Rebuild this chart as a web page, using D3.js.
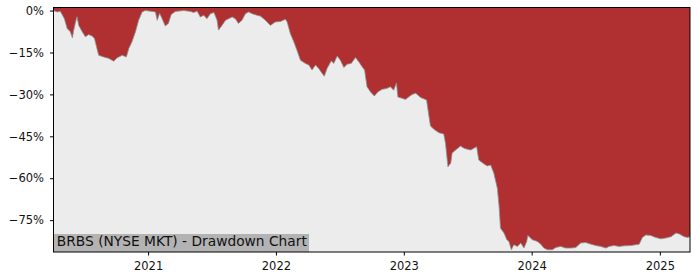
<!DOCTYPE html>
<html>
<head>
<meta charset="utf-8">
<script src="https://cdn.jsdelivr.net/npm/d3@7"></script>
<style>
  body { margin: 0; background: #fff; }
  text { font-family: "DejaVu Sans", sans-serif; }
</style>
</head>
<body>
<svg width="700" height="280"></svg>
<script>
const ticker = "BRBS (NYSE MKT) - Drawdown Chart"

const dates = [
  "2020-04-06","2020-04-17","2020-04-25","2020-05-01","2020-05-07","2020-05-15","2020-05-24","2020-05-30","2020-06-02","2020-06-07",
  "2020-06-12","2020-06-17","2020-06-27","2020-07-06","2020-07-15","2020-07-25","2020-08-01","2020-08-08","2020-08-13","2020-08-27",
  "2020-09-10","2020-09-25","2020-10-04","2020-10-19","2020-10-31","2020-11-07","2020-11-16","2020-11-26","2020-12-05","2020-12-15","2020-12-24",
  "2021-01-07","2021-01-22","2021-01-27","2021-02-03","2021-02-10","2021-02-19","2021-02-28","2021-03-08","2021-03-20","2021-04-13",
  "2021-05-02","2021-05-11","2021-05-21","2021-05-30","2021-06-09","2021-06-18","2021-06-28","2021-07-08","2021-07-17","2021-07-21",
  "2021-07-31","2021-08-10","2021-08-19","2021-08-29","2021-09-07","2021-09-16","2021-09-26","2021-10-06","2021-10-15","2021-10-25",
  "2021-11-08","2021-11-18","2021-12-02","2021-12-16","2021-12-30",
  "2022-01-14","2022-01-28","2022-02-02","2022-02-11","2022-02-21","2022-03-02","2022-03-12","2022-03-26","2022-04-05","2022-04-14",
  "2022-04-24","2022-05-03","2022-05-13","2022-05-19","2022-05-27","2022-06-08","2022-06-15","2022-06-25","2022-07-04","2022-07-14",
  "2022-07-23","2022-08-04","2022-08-16","2022-08-26","2022-09-04","2022-09-11","2022-09-18","2022-09-28","2022-10-09","2022-10-19",
  "2022-10-31","2022-11-13","2022-11-24","2022-12-03","2022-12-11","2022-12-15","2022-12-27",
  "2023-01-06","2023-01-15","2023-01-25","2023-02-04","2023-02-18","2023-03-07","2023-03-14","2023-03-18","2023-03-28","2023-04-11",
  "2023-04-25","2023-04-30","2023-05-07","2023-05-15","2023-05-19","2023-05-29","2023-06-12","2023-06-22","2023-07-01","2023-07-11",
  "2023-07-20","2023-07-28","2023-08-03","2023-08-18","2023-08-27","2023-09-06","2023-09-15","2023-09-25","2023-09-30","2023-10-04",
  "2023-10-14","2023-10-22","2023-10-28","2023-11-04","2023-11-11","2023-11-21","2023-12-01","2023-12-10","2023-12-18","2023-12-21",
  "2024-01-03","2024-01-17","2024-01-27","2024-02-05","2024-02-15","2024-02-29","2024-03-10","2024-03-24","2024-04-07","2024-04-22",
  "2024-05-06","2024-05-20","2024-06-03","2024-06-18","2024-07-02","2024-07-16","2024-07-31","2024-08-09","2024-08-23","2024-09-07",
  "2024-09-21","2024-10-10","2024-10-24","2024-11-03","2024-11-12","2024-11-22","2024-12-06","2024-12-20",
  "2025-01-04","2025-01-18","2025-02-02","2025-02-16","2025-02-26","2025-03-11","2025-03-21","2025-03-28"
]

// drawdown in percent
const drawdown = [
  0, -0.5, -0.2, -1.5, -2.9, -6.4, -7.6, -9.8, -7.5, -4.6,
  -2.2, -5.3, -7.6, -9.4, -8.6, -9.1, -10, -13.6, -16, -16.6,
  -17.1, -18.1, -17, -16, -16.6, -13.6, -11.2, -7.6, -3.5, -0.5, 0,
  -0.2, -0.5, -3.5, -1, -2.9, -5.5, -4.6, -1.4, -0.3, 0,
  -0.3, -0.7, -0.2, -2.3, -1.7, -2.9, -1.1, -0.7, -3.5, -7,
  -5.3, -3.5, -2.9, -2.3, -2.9, -4.6, -3.5, -1.1, -0.5, -1.1,
  -1.7, -2.0, -3.5, -5.3, -4.1,
  -3.9, -3.1, -4.1, -8.2, -11.2, -14.2, -17.8, -18.9, -19.5, -21.3,
  -19.5, -20.7, -22.5, -23.5, -20.7, -18, -18.9, -16.3, -17.8, -20.4,
  -19.2, -18.9, -16.8, -18.4, -20.1, -21.3, -27.3, -29.1, -30.6, -29.1,
  -28.2, -27.9, -27.3, -28.5, -25.9, -30.9, -31.4,
  -31.8, -30.9, -30, -29.6, -31.1, -32, -38, -41.3, -42.5, -43.7,
  -44.2, -47.5, -55.9, -54.6, -51, -49.9, -48.5, -49.3, -49.6, -49.9,
  -49.3, -48.7, -53.5, -54.9, -55.6, -55.3, -58.2, -63.6, -70.1, -77.9,
  -79.6, -82, -82.6, -85.6, -83.8, -84.4, -83.2, -85, -82.6, -80.5,
  -82, -82.6, -83.6, -85, -85.6, -85.6, -84.8, -84.4, -85, -85,
  -84.8, -83.2, -83, -83.6, -84.1, -84.4, -85, -84.4, -84.1, -84.4,
  -84.2, -84.1, -83.8, -83.6, -81.2, -80.3, -80.5, -81.2,
  -81.7, -81.4, -80.9, -79.6, -80, -80.9, -81.2, -80.9
]

const yTicks = [0, -15, -30, -45, -60, -75]
const yLimits = [-86.4, 1.1]

const svg = d3.select("svg"),
  width = +svg.attr("width"),
  height = +svg.attr("height");

const margin = {top: 7.5, right: 10, bottom: 28, left: 53.5}

const parse = d3.timeParse("%Y-%m-%d")
const data = dates.map((d, i) => ({date: parse(d), value: drawdown[i]}))

const x = d3.scaleTime()
  .domain(d3.extent(data, d => d.date))
  .range([margin.left, width - margin.right])

const y = d3.scaleLinear()
  .domain(yLimits)
  .range([height - margin.bottom, margin.top])

// plot background
svg.append("rect")
  .attr("x", margin.left)
  .attr("y", margin.top)
  .attr("width", width - margin.left - margin.right)
  .attr("height", height - margin.top - margin.bottom)
  .attr("fill", "#ececec")

// red fill from top of plot down to the drawdown line
const area = d3.area()
  .x(d => x(d.date))
  .y0(y(yLimits[1]))
  .y1(d => y(d.value))

svg.append("path")
  .datum(data)
  .attr("fill", "#b03031")
  .attr("d", area)

svg.append("path")
  .datum(data)
  .attr("fill", "none")
  .attr("stroke", "#8a9494")
  .attr("stroke-width", 0.8)
  .attr("d", d3.line().x(d => x(d.date)).y(d => y(d.value)))

// label box
const label = svg.append("g")
const labelText = label.append("text")
  .attr("x", margin.left + 3.3)
  .attr("y", height - margin.bottom - 5.8)
  .attr("font-size", "13.4px")
  .attr("textLength", 250)
  .attr("lengthAdjust", "spacingAndGlyphs")
  .attr("fill", "#111")
  .text(ticker)
const bb = labelText.node().getBBox()
label.insert("rect", "text")
  .attr("x", margin.left)
  .attr("y", height - margin.bottom - 18)
  .attr("width", 255.5)
  .attr("height", 18)
  .attr("fill", "#b3b3b3")

// axes
const fmt = d => (d < 0 ? "\u2212" + Math.abs(d) : d) + "%"

svg.append("g")
  .attr("transform", `translate(${margin.left},0)`)
  .call(d3.axisLeft(y).tickValues(yTicks).tickFormat(fmt).tickSize(3.5).tickPadding(6))
  .call(g => g.select(".domain").remove())
  .call(g => g.selectAll("text").attr("font-size", "11.5px").attr("font-family", "DejaVu Sans").attr("fill", "#111"))

svg.append("g")
  .attr("transform", `translate(0,${height - margin.bottom})`)
  .call(d3.axisBottom(x).ticks(d3.timeYear.every(1)).tickFormat(d3.timeFormat("%Y")).tickSize(3.5).tickPadding(6.5))
  .call(g => g.select(".domain").remove())
  .call(g => g.selectAll("text").attr("font-size", "11.5px").attr("font-family", "DejaVu Sans").attr("fill", "#111"))

// frame
svg.append("rect")
  .attr("x", margin.left)
  .attr("y", margin.top)
  .attr("width", width - margin.left - margin.right)
  .attr("height", height - margin.top - margin.bottom)
  .attr("fill", "none")
  .attr("stroke", "#000")
  .attr("stroke-width", 1)
</script>
</body>
</html>
